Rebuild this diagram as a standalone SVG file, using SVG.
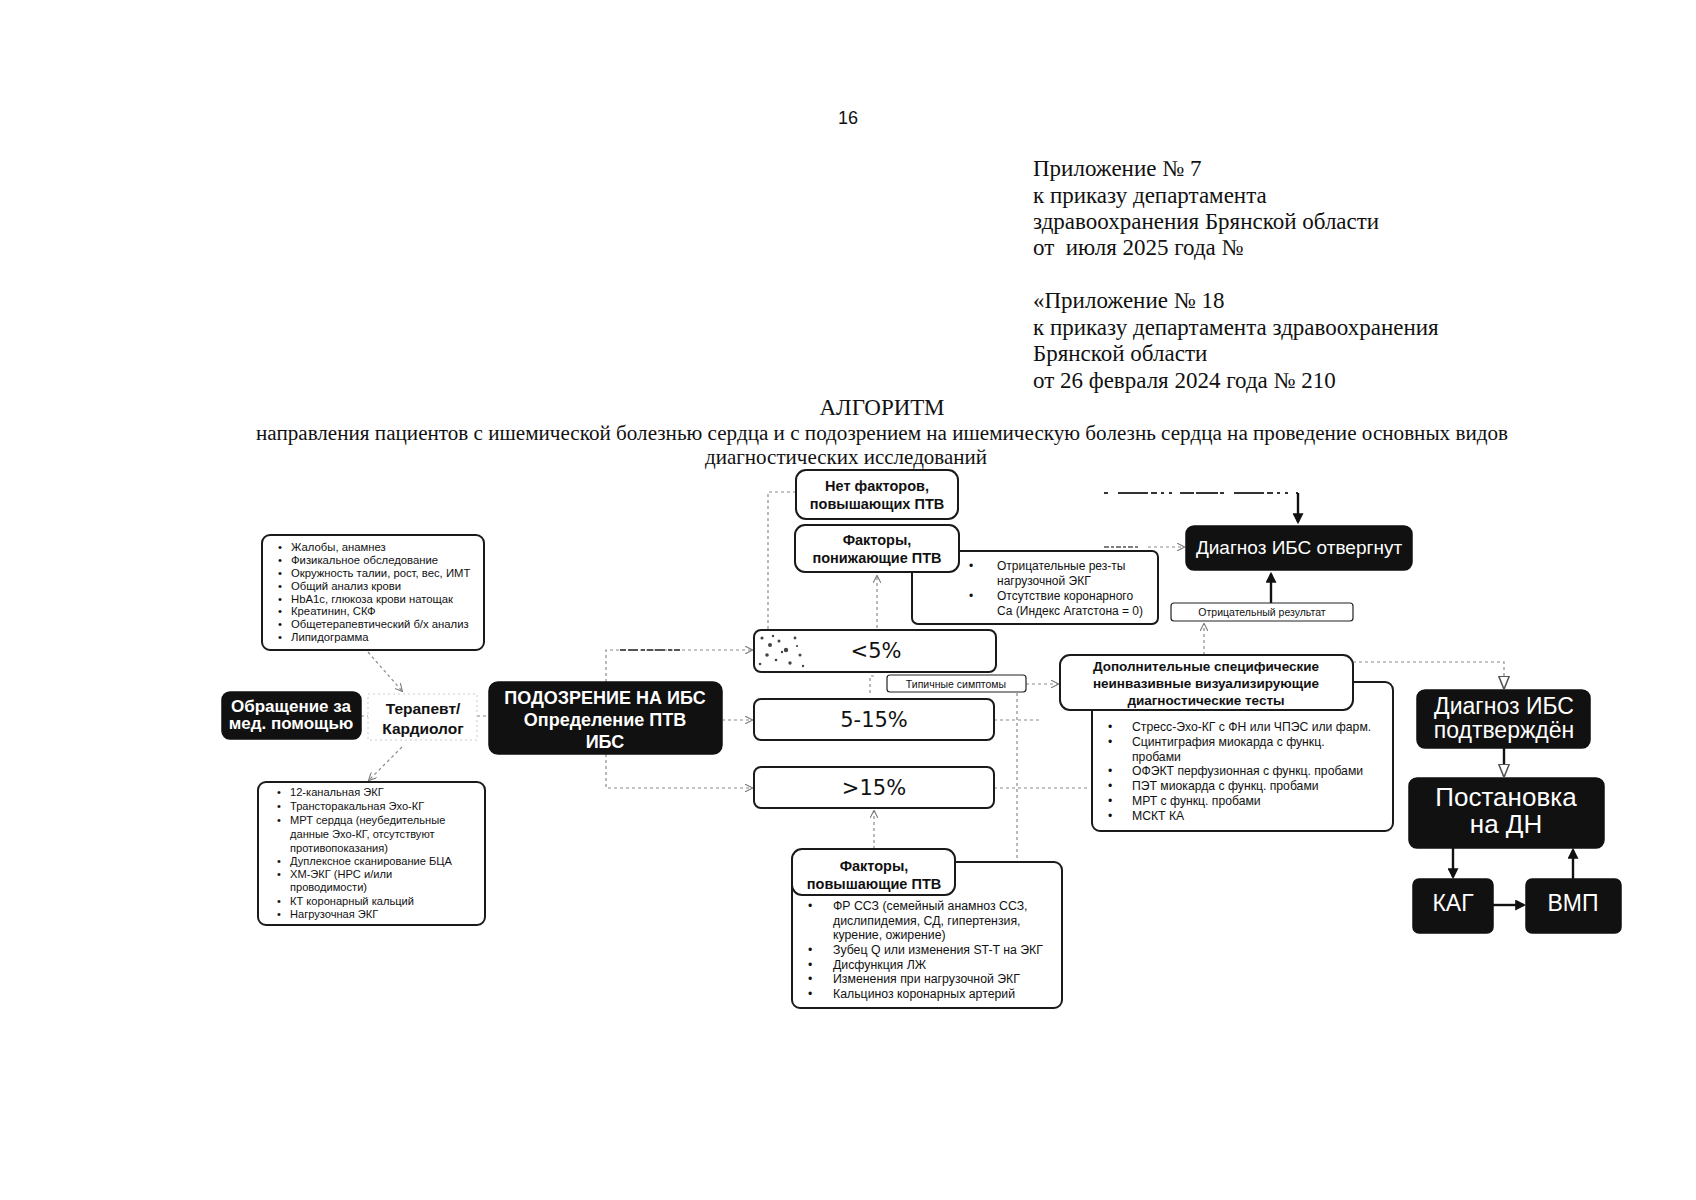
<svg xmlns="http://www.w3.org/2000/svg" width="1696" height="1200" viewBox="0 0 1696 1200">
<defs>
<style>
.serif{font-family:"Liberation Serif","Times New Roman",serif;fill:#111}
.sans{font-family:"Liberation Sans",Arial,sans-serif;fill:#111}
.wbox{fill:#fff;stroke:#1a1a1a;stroke-width:2}
.bbox{fill:#111;stroke:#111;stroke-width:1.5}
.wt{font-family:"Liberation Sans",Arial,sans-serif;fill:#fff}
.pct{font-family:"DejaVu Sans","Liberation Sans",sans-serif;fill:#111;font-size:21px}
.dash{fill:none;stroke:#8a8a8a;stroke-width:1.2;stroke-dasharray:3 3}
.solid{fill:none;stroke:#111;stroke-width:2.4}
</style>
<marker id="ah" viewBox="0 0 10 10" refX="9" refY="5" markerWidth="8" markerHeight="8" orient="auto" markerUnits="userSpaceOnUse">
<path d="M0,0 L10,5 L0,10" fill="none" stroke="#777" stroke-width="1.3"/>
</marker>
<marker id="ahs" viewBox="0 0 10 10" refX="8" refY="5" markerWidth="11" markerHeight="11" orient="auto" markerUnits="userSpaceOnUse">
<path d="M0,0 L10,5 L0,10 Z" fill="#111"/>
</marker>
<marker id="aho" viewBox="0 0 10 10" refX="9" refY="5" markerWidth="13" markerHeight="13" orient="auto" markerUnits="userSpaceOnUse">
<path d="M0,1 L10,5 L0,9 Z" fill="#fff" stroke="#555" stroke-width="1.2"/>
</marker>
</defs>
<rect width="1696" height="1200" fill="#fff"/>

<!-- header -->
<g id="header">
<text class="sans" x="848" y="124" font-size="18" text-anchor="middle">16</text>
<g class="serif" font-size="23">
<text x="1033" y="176">Приложение № 7</text>
<text x="1033" y="203">к приказу департамента</text>
<text x="1033" y="229">здравоохранения Брянской области</text>
<text x="1033" y="255">от&#160; июля 2025 года №</text>
<text x="1033" y="308">«Приложение № 18</text>
<text x="1033" y="335">к приказу департамента здравоохранения</text>
<text x="1033" y="361">Брянской области</text>
<text x="1033" y="388">от 26 февраля 2024 года № 210</text>
</g>
<text class="serif" x="882" y="415" font-size="23" text-anchor="middle">АЛГОРИТМ</text>
<text class="serif" x="256" y="440" font-size="20" textLength="1252" lengthAdjust="spacingAndGlyphs">направления пациентов с ишемической болезнью сердца и с подозрением на ишемическую болезнь сердца на проведение основных видов</text>
<text class="serif" x="846" y="464" font-size="21" text-anchor="middle">диагностических исследований</text>
</g>

<!-- connectors -->
<g id="connectors">
<path class="dash" d="M368,652 L402,691" marker-end="url(#ah)"/>
<path class="dash" d="M402,747 L369,780" marker-end="url(#ah)"/>
<path class="dash" d="M361,716 H368"/>
<path class="dash" d="M477,716 H489"/>
<path class="dash" d="M606,682 V650 H752" marker-end="url(#ah)"/>
<path d="M620,650 H680" stroke="#555" stroke-width="2" stroke-dasharray="6 2 10 3 4 2"/>
<path class="dash" d="M722,720 H752" marker-end="url(#ah)"/>
<path class="dash" d="M606,754 V788 H752" marker-end="url(#ah)"/>
<path class="dash" d="M796,492 H768 V630"/>
<path class="dash" d="M877,628 V576" marker-end="url(#ah)"/>
<path class="dash" d="M874,849 V811" marker-end="url(#ah)"/>
<path class="dash" d="M874,676 H870 V693"/>
<path class="dash" d="M1026,684 H1058" marker-end="url(#ah)"/>
<path class="dash" d="M994,720 H1040"/>
<path class="dash" d="M994,788 H1090"/>
<path class="dash" d="M1017,693 V862"/>
<path class="dash" d="M1148,547 H1184" marker-end="url(#ah)"/>
<path d="M1104,547 H1140" stroke="#555" stroke-width="1.6" stroke-dasharray="5 2 3 2"/>
<path d="M1104,493 H1298" fill="none" stroke="#333" stroke-width="2" stroke-dasharray="4 10 30 3 6 4 3 5 3 8 14 2 22 2"/>
<path class="solid" d="M1298,493 V522" marker-end="url(#ahs)"/>
<path class="solid" d="M1271,603 V574" marker-end="url(#ahs)"/>
<path class="dash" d="M1204,655 V624" marker-end="url(#ah)"/>
<path class="dash" d="M1353,662 H1504 V688" marker-end="url(#aho)"/>
<path class="solid" d="M1504,748 V776" marker-end="url(#aho)"/>
<path class="solid" d="M1453,848 V877" marker-end="url(#ahs)"/>
<path class="solid" d="M1493,905 H1524" marker-end="url(#ahs)"/>
<path class="solid" d="M1573,879 V850" marker-end="url(#ahs)"/>
</g>

<!-- left list top -->
<g id="exam-list">
<rect class="wbox" x="262" y="535" width="222" height="115" rx="8"/>
<g class="sans" font-size="11.3">
<text x="278" y="551">•</text><text x="291" y="551">Жалобы, анамнез</text>
<text x="278" y="564">•</text><text x="291" y="564">Физикальное обследование</text>
<text x="278" y="577">•</text><text x="291" y="577">Окружность талии, рост, вес, ИМТ</text>
<text x="278" y="590">•</text><text x="291" y="590">Общий анализ крови</text>
<text x="278" y="603">•</text><text x="291" y="603">HbA1c, глюкоза крови натощак</text>
<text x="278" y="615">•</text><text x="291" y="615">Креатинин, СКФ</text>
<text x="278" y="628">•</text><text x="291" y="628">Общетерапевтический б/х анализ</text>
<text x="278" y="641">•</text><text x="291" y="641">Липидограмма</text>
</g>
</g>

<g id="obrashchenie">
<rect class="bbox" x="222" y="692" width="139" height="47" rx="8"/>
<text class="wt" x="291" y="712" font-size="17" font-weight="bold" text-anchor="middle">Обращение за</text>
<text class="wt" x="291" y="729" font-size="17" font-weight="bold" text-anchor="middle">мед. помощью</text>
</g>

<g id="terapevt">
<rect x="368" y="694" width="109" height="46" fill="#fff" stroke="#ccc" stroke-width="1" stroke-dasharray="2 3"/>
<text class="sans" x="423" y="714" font-size="15.5" font-weight="bold" text-anchor="middle">Терапевт/</text>
<text class="sans" x="423" y="734" font-size="15.5" font-weight="bold" text-anchor="middle">Кардиолог</text>
</g>

<g id="podozrenie">
<rect class="bbox" x="489" y="682" width="233" height="72" rx="9"/>
<text class="wt" x="605" y="704" font-size="18" font-weight="bold" text-anchor="middle">ПОДОЗРЕНИЕ НА ИБС</text>
<text class="wt" x="605" y="726" font-size="18" font-weight="bold" text-anchor="middle">Определение ПТВ</text>
<text class="wt" x="605" y="748" font-size="18" font-weight="bold" text-anchor="middle">ИБС</text>
</g>

<g id="instr-list">
<rect class="wbox" x="258" y="782" width="227" height="143" rx="8"/>
<g class="sans" font-size="11.1">
<text x="277" y="796">•</text><text x="290" y="796">12-канальная ЭКГ</text>
<text x="277" y="810">•</text><text x="290" y="810">Трансторакальная Эхо-КГ</text>
<text x="277" y="824">•</text><text x="290" y="824">МРТ сердца (неубедительные</text>
<text x="290" y="838">данные Эхо-КГ, отсутствуют</text>
<text x="290" y="852">противопоказания)</text>
<text x="277" y="865">•</text><text x="290" y="865">Дуплексное сканирование БЦА</text>
<text x="277" y="878">•</text><text x="290" y="878">ХМ-ЭКГ (НРС и/или</text>
<text x="290" y="891">проводимости)</text>
<text x="277" y="905">•</text><text x="290" y="905">КТ коронарный кальций</text>
<text x="277" y="918">•</text><text x="290" y="918">Нагрузочная ЭКГ</text>
</g>
</g>

<g id="net-faktorov">
<rect class="wbox" x="796" y="470" width="162" height="49" rx="10"/>
<text class="sans" x="877" y="491" font-size="14.5" font-weight="bold" text-anchor="middle">Нет факторов,</text>
<text class="sans" x="877" y="509" font-size="14.5" font-weight="bold" text-anchor="middle">повышающих ПТВ</text>
</g>

<g id="ponizh-list">
<rect class="wbox" x="912" y="551" width="246" height="73" rx="6"/>
<g class="sans" font-size="12">
<text x="969" y="570">•</text><text x="997" y="570">Отрицательные рез-ты</text>
<text x="997" y="585">нагрузочной ЭКГ</text>
<text x="969" y="600">•</text><text x="997" y="600">Отсутствие коронарного</text>
<text x="997" y="615">Са (Индекс Агатстона = 0)</text>
</g>
</g>

<g id="ponizh">
<rect class="wbox" x="795" y="525" width="164" height="47" rx="10"/>
<text class="sans" x="877" y="545" font-size="14.5" font-weight="bold" text-anchor="middle">Факторы,</text>
<text class="sans" x="877" y="563" font-size="14.5" font-weight="bold" text-anchor="middle">понижающие ПТВ</text>
</g>

<g id="lt5">
<rect class="wbox" x="754" y="630" width="242" height="42" rx="7"/>
<g fill="#444">
<circle cx="762" cy="638" r="1.6"/><circle cx="770" cy="645" r="2"/><circle cx="779" cy="641" r="1.5"/><circle cx="786" cy="650" r="2.2"/><circle cx="795" cy="638" r="1.4"/><circle cx="767" cy="655" r="1.8"/><circle cx="776" cy="660" r="1.3"/><circle cx="790" cy="663" r="1.7"/><circle cx="800" cy="655" r="1.5"/><circle cx="782" cy="652" r="1.2"/><circle cx="760" cy="664" r="1.3"/><circle cx="797" cy="646" r="1.1"/><circle cx="773" cy="636" r="1.2"/><circle cx="803" cy="666" r="1.2"/>
</g>
<text class="pct" x="876" y="658" text-anchor="middle">&lt;5%</text>
</g>

<g id="tipichnye">
<rect x="887" y="675" width="139" height="17" rx="3" fill="#fff" stroke="#222" stroke-width="1.2"/>
<text class="sans" x="956" y="688" font-size="10.5" text-anchor="middle">Типичные симптомы</text>
</g>

<g id="p5-15">
<rect class="wbox" x="754" y="699" width="240" height="41" rx="7"/>
<text class="pct" x="874" y="727" text-anchor="middle">5-15%</text>
</g>

<g id="gt15">
<rect class="wbox" x="754" y="767" width="240" height="41" rx="7" stroke-width="2.2"/>
<text class="pct" x="874" y="795" text-anchor="middle">&gt;15%</text>
</g>

<g id="povysh-list">
<rect class="wbox" x="792" y="862" width="270" height="146" rx="8"/>
<g class="sans" font-size="12.3">
<text x="808" y="910">•</text><text x="833" y="910">ФР ССЗ (семейный анамноз ССЗ,</text>
<text x="833" y="925">дислипидемия, СД, гипертензия,</text>
<text x="833" y="939">курение, ожирение)</text>
<text x="808" y="954">•</text><text x="833" y="954">Зубец Q или изменения ST-T на ЭКГ</text>
<text x="808" y="969">•</text><text x="833" y="969">Дисфункция ЛЖ</text>
<text x="808" y="983">•</text><text x="833" y="983">Изменения при нагрузочной ЭКГ</text>
<text x="808" y="998">•</text><text x="833" y="998">Кальциноз коронарных артерий</text>
</g>
</g>

<g id="povysh">
<rect class="wbox" x="792" y="849" width="163" height="46" rx="10"/>
<text class="sans" x="874" y="871" font-size="14.5" font-weight="bold" text-anchor="middle">Факторы,</text>
<text class="sans" x="874" y="889" font-size="14.5" font-weight="bold" text-anchor="middle">повышающие ПТВ</text>
</g>

<g id="otvergnut">
<rect class="bbox" x="1186" y="526" width="226" height="44" rx="8"/>
<text class="wt" x="1299" y="554" font-size="19" text-anchor="middle">Диагноз ИБС отвергнут</text>
</g>

<g id="otr-rez">
<rect x="1171" y="603" width="182" height="18" rx="3" fill="#fff" stroke="#222" stroke-width="1.2"/>
<text class="sans" x="1262" y="616" font-size="10.5" text-anchor="middle">Отрицательный результат</text>
</g>

<g id="dop-list">
<rect class="wbox" x="1092" y="682" width="301" height="149" rx="8"/>
<g class="sans" font-size="12.2">
<text x="1108" y="731">•</text><text x="1132" y="731">Стресс-Эхо-КГ с ФН или ЧПЭС или фарм.</text>
<text x="1108" y="746">•</text><text x="1132" y="746">Сцинтиграфия миокарда с функц.</text>
<text x="1132" y="761">пробами</text>
<text x="1108" y="775">•</text><text x="1132" y="775">ОФЭКТ перфузионная с функц. пробами</text>
<text x="1108" y="790">•</text><text x="1132" y="790">ПЭТ миокарда с функц. пробами</text>
<text x="1108" y="805">•</text><text x="1132" y="805">МРТ с функц. пробами</text>
<text x="1108" y="820">•</text><text x="1132" y="820">МСКТ КА</text>
</g>
</g>

<g id="dop">
<rect class="wbox" x="1060" y="655" width="293" height="55" rx="10"/>
<text class="sans" x="1206" y="671" font-size="13.5" font-weight="bold" text-anchor="middle">Дополнительные специфические</text>
<text class="sans" x="1206" y="688" font-size="13.5" font-weight="bold" text-anchor="middle">неинвазивные визуализирующие</text>
<text class="sans" x="1206" y="705" font-size="13.5" font-weight="bold" text-anchor="middle">диагностические тесты</text>
</g>

<g id="podtverzhden">
<rect class="bbox" x="1417" y="690" width="173" height="58" rx="8"/>
<text class="wt" x="1504" y="714" font-size="23" text-anchor="middle">Диагноз ИБС</text>
<text class="wt" x="1504" y="738" font-size="23" text-anchor="middle">подтверждён</text>
</g>

<g id="dn">
<rect class="bbox" x="1409" y="778" width="195" height="70" rx="8"/>
<text class="wt" x="1506" y="806" font-size="26" text-anchor="middle">Постановка</text>
<text class="wt" x="1506" y="833" font-size="26" text-anchor="middle">на ДН</text>
</g>

<g id="kag">
<rect class="bbox" x="1413" y="879" width="80" height="54" rx="6"/>
<text class="wt" x="1453" y="911" font-size="23" text-anchor="middle">КАГ</text>
</g>

<g id="vmp">
<rect class="bbox" x="1526" y="879" width="95" height="54" rx="6"/>
<text class="wt" x="1573" y="911" font-size="23" text-anchor="middle">ВМП</text>
</g>
</svg>
